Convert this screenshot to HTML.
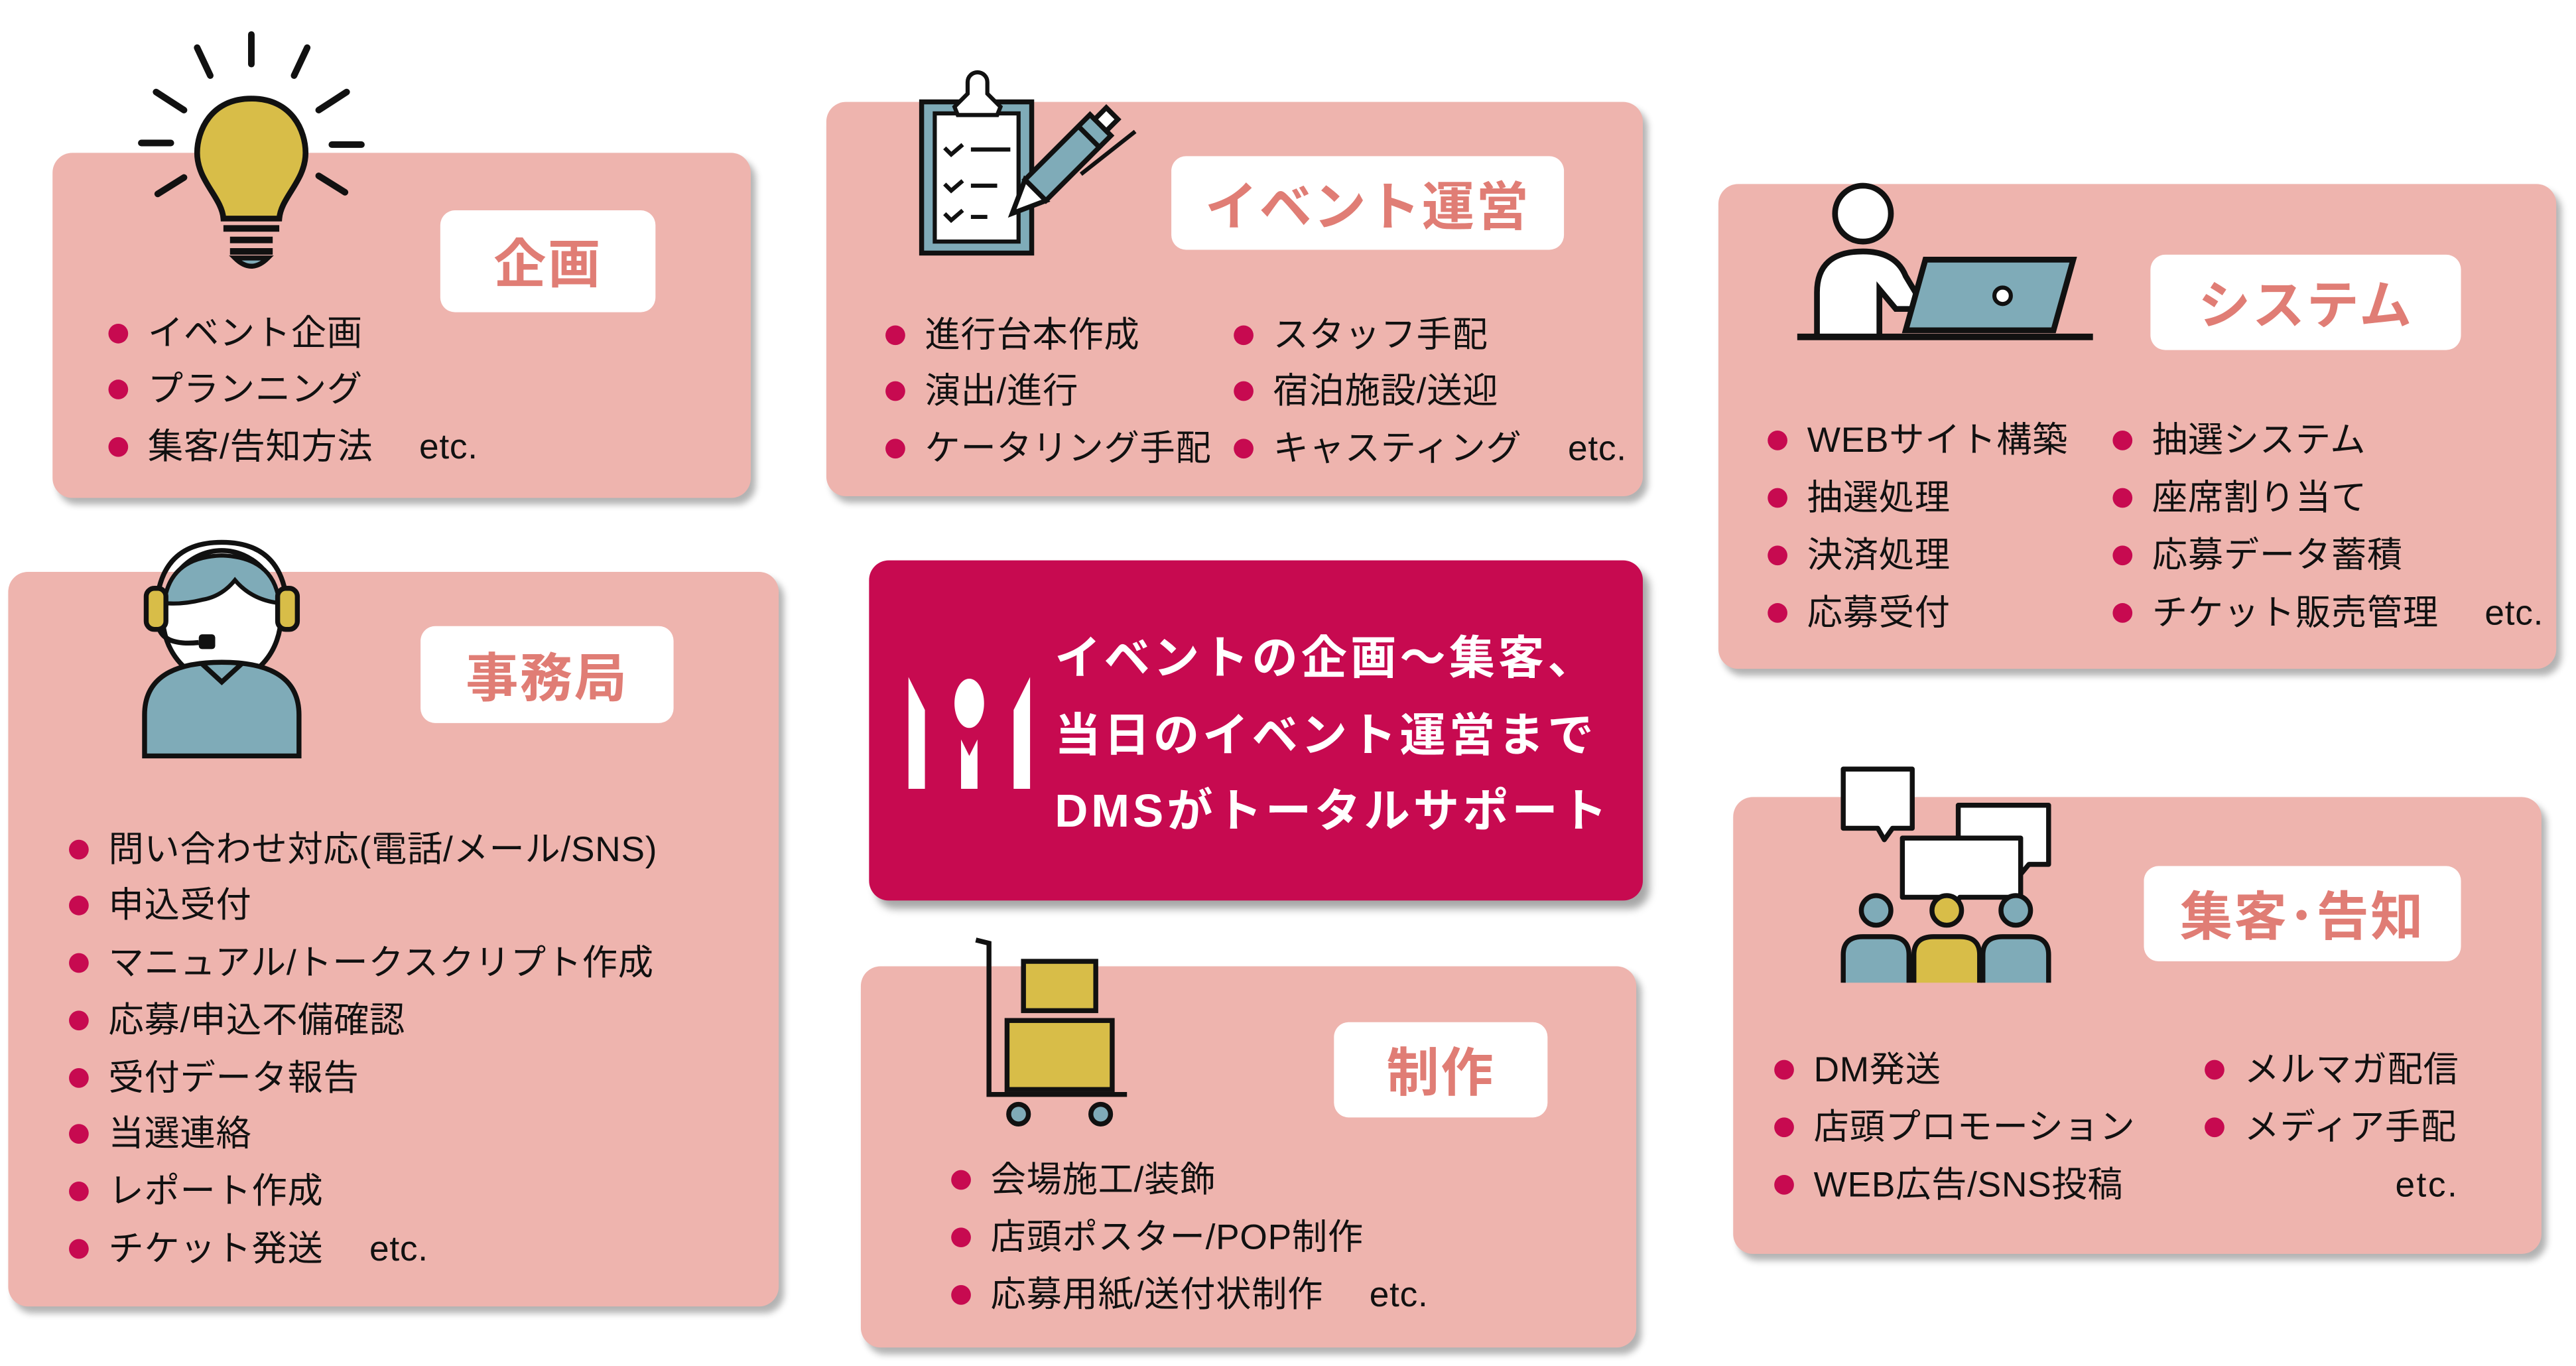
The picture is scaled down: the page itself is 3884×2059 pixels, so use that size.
<!DOCTYPE html>
<html><head><meta charset="utf-8"><style>
html,body{margin:0;padding:0;background:#fff;}
#root{position:relative;width:3884px;height:2059px;overflow:hidden;}
#s{position:absolute;left:0;top:0;width:1568px;height:831px;transform:scale(2.4770);transform-origin:0 0;font-family:"Liberation Sans","Noto Sans CJK JP",sans-serif;}
.box{position:absolute;background:#eeb4ae;border-radius:12px;box-shadow:3px 4px 4px rgba(0,0,0,0.3);}
.lab{position:absolute;background:#fff;border-radius:9px;color:#e07d75;font-weight:bold;font-size:32px;display:flex;align-items:center;justify-content:center;letter-spacing:1px;}
.b{position:absolute;font-size:21.5px;color:#111;white-space:nowrap;line-height:24px;letter-spacing:0.3px;}
.b:before{content:"";position:absolute;left:-24px;top:6px;width:12px;height:12px;border-radius:50%;background:#c70a50;}
svg{position:absolute;overflow:visible;}
</style></head><body><div id="root"><div id="s">

<!-- 企画 -->
<div class="box" style="left:32px;top:93px;width:425px;height:210px"></div>
<div class="lab" style="left:268px;top:128px;width:131px;height:62px">企画</div>
<div class="b" style="left:90px;top:191px">イベント企画</div>
<div class="b" style="left:90px;top:225px">プランニング</div>
<div class="b" style="left:90px;top:260px">集客/告知方法　 etc.</div>
<svg style="left:80px;top:15px" width="150" height="150" viewBox="0 0 150 150">
 <g stroke="#111" stroke-width="4" stroke-linecap="round" fill="none">
  <line x1="73" y1="6" x2="73" y2="24"/><line x1="40" y1="14" x2="48" y2="31"/><line x1="107" y1="14" x2="99" y2="31"/>
  <line x1="15" y1="41" x2="32" y2="52"/><line x1="131" y1="41" x2="114" y2="52"/>
  <line x1="6" y1="72" x2="24" y2="72"/><line x1="122" y1="73" x2="140" y2="73"/>
  <line x1="16" y1="103" x2="32" y2="93"/><line x1="130" y1="102" x2="114" y2="92"/>
 </g>
 <path d="M73 45 C48 45 40 65 40 78 C40 95 55 105 56 118 L90 118 C91 105 106 95 106 78 C106 65 98 45 73 45Z" fill="#d8bd48" stroke="#111" stroke-width="3.5"/>
 <g stroke="#111" stroke-width="4"><line x1="56" y1="124" x2="90" y2="124"/><line x1="60" y1="131" x2="86" y2="131"/><line x1="60" y1="138" x2="86" y2="138"/></g>
 <path d="M63 142 Q73 152 83 142Z" fill="#7fabb8" stroke="#111" stroke-width="3"/>
</svg>

<!-- イベント運営 -->
<div class="box" style="left:503px;top:62px;width:497px;height:240px"></div>
<div class="lab" style="left:713px;top:95px;width:239px;height:57px">イベント運営</div>
<div class="b" style="left:563px;top:192px">進行台本作成</div>
<div class="b" style="left:563px;top:226px">演出/進行</div>
<div class="b" style="left:563px;top:261px">ケータリング手配</div>
<div class="b" style="left:775px;top:192px">スタッフ手配</div>
<div class="b" style="left:775px;top:226px">宿泊施設/送迎</div>
<div class="b" style="left:775px;top:261px">キャスティング　 etc.</div>
<svg style="left:555px;top:35px" width="135" height="125" viewBox="0 0 135 125">
 <rect x="6" y="27" width="67" height="92" fill="#7fabb8" stroke="#111" stroke-width="3"/>
 <rect x="14" y="34" width="51" height="78" fill="#fff" stroke="#111" stroke-width="2.5"/>
 <path d="M26 30 L34 22 L34 15 A6 6 0 1 1 46 15 L46 22 L54 30 L52 35 L28 35Z" fill="#fff" stroke="#111" stroke-width="2.5"/>
 <g stroke="#111" stroke-width="2.5" fill="none"><path d="M20 55 l4 4 l7 -6"/><path d="M20 77 l4 4 l7 -6"/><path d="M20 95 l4 4 l7 -6"/>
 <line x1="36" y1="56" x2="60" y2="56"/><line x1="36" y1="78" x2="52" y2="78"/><line x1="36" y1="97" x2="46" y2="97"/></g>
 <g transform="translate(88,68) rotate(45)">
  <rect x="-9" y="-38" width="18" height="56" fill="#7fabb8" stroke="#111" stroke-width="3"/>
  <line x1="-9" y1="-28" x2="9" y2="-28" stroke="#111" stroke-width="3"/>
  <rect x="-5" y="-48" width="10" height="10" fill="#fff" stroke="#111" stroke-width="3"/>
  <path d="M-9 18 L0 38 L9 18Z" fill="#fff" stroke="#111" stroke-width="3"/>
 </g>
 <line x1="103" y1="71" x2="136" y2="45" stroke="#111" stroke-width="2.5"/>
</svg>

<!-- システム -->
<div class="box" style="left:1046px;top:112px;width:510px;height:295px"></div>
<div class="lab" style="left:1309px;top:155px;width:189px;height:58px">システム</div>
<div class="b" style="left:1100px;top:256px">WEBサイト構築</div>
<div class="b" style="left:1100px;top:291px">抽選処理</div>
<div class="b" style="left:1100px;top:326px">決済処理</div>
<div class="b" style="left:1100px;top:361px">応募受付</div>
<div class="b" style="left:1310px;top:256px">抽選システム</div>
<div class="b" style="left:1310px;top:291px">座席割り当て</div>
<div class="b" style="left:1310px;top:326px">応募データ蓄積</div>
<div class="b" style="left:1310px;top:361px">チケット販売管理　 etc.</div>
<svg style="left:1092px;top:108px" width="185" height="105" viewBox="0 0 185 105">
 <circle cx="42" cy="22" r="17" fill="#fff" stroke="#111" stroke-width="3.5"/>
 <path d="M14 96 L14 70 Q14 45 42 45 Q62 45 68 60 L80 80 L62 80 L52 68 L52 96" fill="#fff" stroke="#111" stroke-width="3.5"/>
 <path d="M80 50 L170 50 L158 93 L68 93Z" fill="#7fabb8" stroke="#111" stroke-width="3.5"/>
 <circle cx="127" cy="72" r="5" fill="#fff" stroke="#111" stroke-width="2.5"/>
 <line x1="2" y1="97" x2="182" y2="97" stroke="#111" stroke-width="4"/>
</svg>

<!-- 事務局 -->
<div class="box" style="left:5px;top:348px;width:469px;height:447px"></div>
<div class="lab" style="left:256px;top:381px;width:154px;height:59px">事務局</div>
<div class="b" style="left:66px;top:505px">問い合わせ対応(電話/メール/SNS)</div>
<div class="b" style="left:66px;top:539px">申込受付</div>
<div class="b" style="left:66px;top:574px">マニュアル/トークスクリプト作成</div>
<div class="b" style="left:66px;top:609px">応募/申込不備確認</div>
<div class="b" style="left:66px;top:644px">受付データ報告</div>
<div class="b" style="left:66px;top:678px">当選連絡</div>
<div class="b" style="left:66px;top:713px">レポート作成</div>
<div class="b" style="left:66px;top:748px">チケット発送　 etc.</div>
<svg style="left:83px;top:325px" width="105" height="137" viewBox="0 0 105 137">
 <path d="M12 50 Q12 5 52 5 Q92 5 92 50" fill="none" stroke="#111" stroke-width="3"/>
 <ellipse cx="52" cy="50" rx="36" ry="40" fill="#fff" stroke="#111" stroke-width="3"/>
 <path d="M17 42 Q20 14 52 13 Q84 14 87 42 Q70 40 60 28 Q52 38 40 40 Q28 43 17 42Z" fill="#7fabb8" stroke="#111" stroke-width="2.5"/>
 <rect x="6" y="33" width="12" height="25" rx="5" fill="#d8bd48" stroke="#111" stroke-width="3"/>
 <rect x="86" y="33" width="12" height="25" rx="5" fill="#d8bd48" stroke="#111" stroke-width="3"/>
 <path d="M14 58 Q18 68 38 66" fill="none" stroke="#111" stroke-width="3"/>
 <rect x="38" y="61" width="10" height="9" rx="2" fill="#111"/>
 <path d="M5 135 L5 110 Q5 78 52 78 Q99 78 99 110 L99 135Z" fill="#7fabb8" stroke="#111" stroke-width="3"/>
 <path d="M40 79 L52 90 L64 79" fill="none" stroke="#111" stroke-width="3"/>
</svg>

<!-- center -->
<div style="position:absolute;left:529px;top:341px;width:471px;height:207px;background:#c70a50;border-radius:12px;box-shadow:4px 5px 5px rgba(0,0,0,0.35)"></div>
<svg style="left:553px;top:412px" width="74" height="68" viewBox="0 0 74 68">
 <path d="M0 0 L10 20 L10 68 L0 68Z" fill="#fff"/><path d="M74 0 L64 20 L64 68 L74 68Z" fill="#fff"/>
 <ellipse cx="37" cy="16" rx="9" ry="15" fill="#fff"/><path d="M32 38 L37 48 L42 38 L42 68 L32 68Z" fill="#fff"/>
</svg>
<div style="position:absolute;left:642px;top:378px;color:#fff;font-weight:bold;font-size:28px;line-height:46.5px;white-space:nowrap;letter-spacing:2px">イベントの企画～集客、<br>当日のイベント運営まで<br>DMSがトータルサポート</div>

<!-- 制作 -->
<div class="box" style="left:524px;top:588px;width:472px;height:232px"></div>
<div class="lab" style="left:812px;top:622px;width:130px;height:58px">制作</div>
<div class="b" style="left:603px;top:706px">会場施工/装飾</div>
<div class="b" style="left:603px;top:741px">店頭ポスター/POP制作</div>
<div class="b" style="left:603px;top:776px">応募用紙/送付状制作　 etc.</div>
<svg style="left:590px;top:568px" width="100" height="120" viewBox="0 0 100 120">
 <path d="M4 4 L12 6 L12 98 L96 98" fill="none" stroke="#111" stroke-width="3"/>
 <rect x="33" y="17" width="44" height="30" fill="#d8bd48" stroke="#111" stroke-width="3"/>
 <rect x="23" y="53" width="64" height="42" fill="#d8bd48" stroke="#111" stroke-width="3"/>
 <circle cx="30" cy="110" r="6" fill="#7fabb8" stroke="#111" stroke-width="3"/>
 <circle cx="80" cy="110" r="6" fill="#7fabb8" stroke="#111" stroke-width="3"/>
</svg>

<!-- 集客・告知 -->
<div class="box" style="left:1055px;top:485px;width:492px;height:278px"></div>
<div class="lab" style="left:1305px;top:527px;width:193px;height:58px">集客･告知</div>
<div class="b" style="left:1104px;top:639px">DM発送</div>
<div class="b" style="left:1104px;top:674px">店頭プロモーション</div>
<div class="b" style="left:1104px;top:709px">WEB広告/SNS投稿</div>
<div class="b" style="left:1366px;top:639px">メルマガ配信</div>
<div class="b" style="left:1366px;top:674px">メディア手配</div>
<div style="position:absolute;left:1458px;top:709px;font-size:21.5px;line-height:24px;color:#111;letter-spacing:1px">etc.</div>
<svg style="left:1120px;top:466px" width="135" height="135" viewBox="0 0 135 135">
 <g stroke="#111" stroke-width="3" fill="#fff" stroke-linejoin="round">
  <path d="M2 2 L44 2 L44 38 L32 38 L27 45 L23 38 L2 38Z"/>
  <path d="M72 24 L127 24 L127 60 L115 60 L110 66 L105 60 L72 60Z"/>
  <path d="M38 44 L110 44 L110 80 L73 80 L68 88 L63 80 L38 80Z"/>
 </g>
 <g stroke="#111" stroke-width="3">
  <circle cx="22" cy="88" r="9" fill="#7fabb8"/><circle cx="65" cy="88" r="9" fill="#d8bd48"/><circle cx="107" cy="88" r="9" fill="#7fabb8"/>
  <path d="M2 132 L2 115 Q2 104 14 104 L30 104 Q42 104 42 115 L42 132" fill="#7fabb8"/>
  <path d="M87 132 L87 115 Q87 104 99 104 L115 104 Q127 104 127 115 L127 132" fill="#7fabb8"/>
  <path d="M45 132 L45 115 Q45 104 57 104 L73 104 Q85 104 85 115 L85 132" fill="#d8bd48"/>
 </g>
</svg>

</div></div></body></html>
